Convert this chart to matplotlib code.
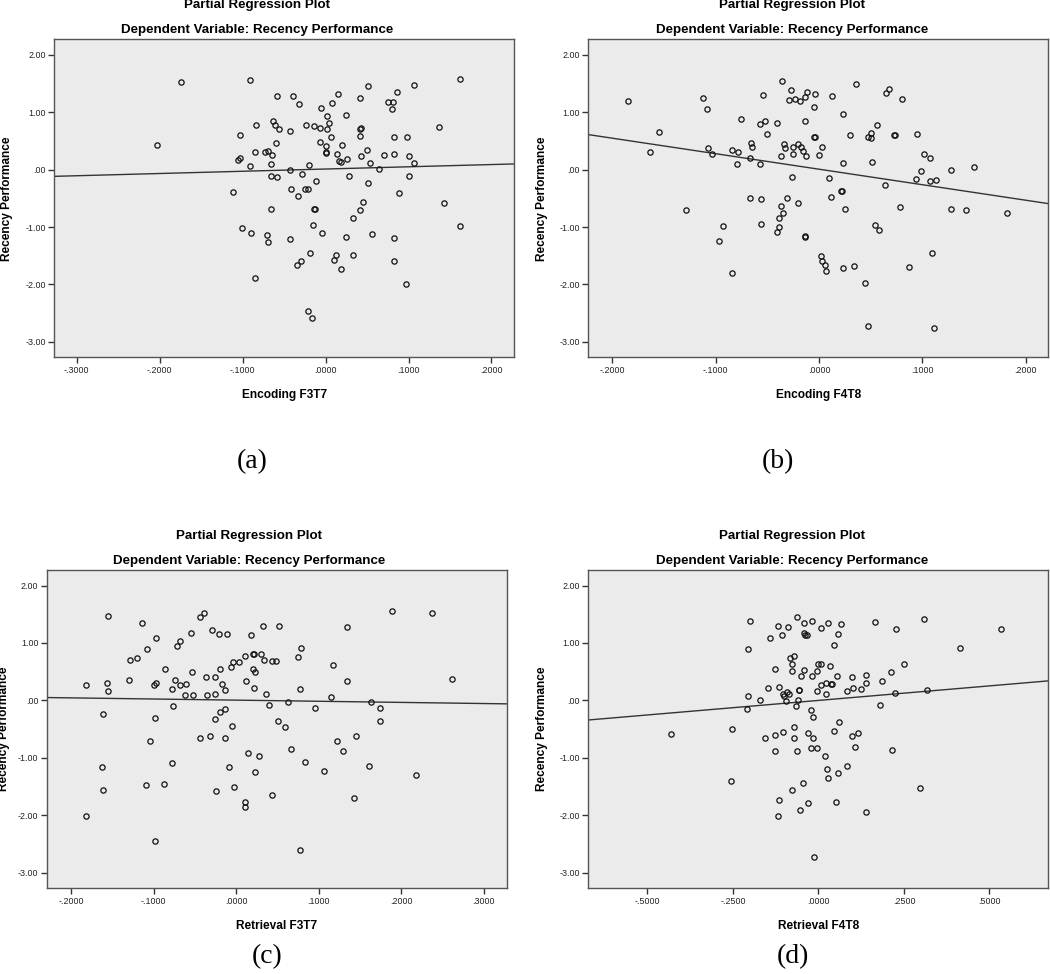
import matplotlib
matplotlib.use('Agg')
import matplotlib.pyplot as plt
from matplotlib.ticker import FuncFormatter

# ===== 数据 =====
# (a) Encoding F3T7
a_x = [-0.174, -0.091, -0.059, -0.203, -0.084, -0.103, -0.063, -0.061, -0.056, -0.060,
       -0.085, -0.073, -0.069, -0.065, -0.106, -0.103, -0.091, -0.066, -0.066, -0.058,
       -0.112, -0.066, -0.101, -0.090, -0.071, -0.070, -0.085, -0.039, -0.032, -0.043,
       -0.043, -0.028, -0.042, -0.033, -0.025, -0.021, -0.011, -0.020, -0.024, -0.014,
       -0.007, -0.005, 0.002, 0.004, 0.002, 0.006, -0.007, 0.001, 0.000, 0.001,
       0.015, 0.008, 0.025, 0.020, 0.014, 0.016, 0.019, 0.026, 0.028, -0.014,
       -0.013, -0.015, -0.004, -0.019, -0.035, -0.030, 0.012, 0.010, 0.018, 0.033,
       0.025, 0.033, 0.041, 0.045, 0.051, 0.053, 0.050, 0.043, 0.042, 0.042,
       0.043, 0.041, 0.051, 0.056, 0.065, 0.071, 0.075, 0.081, 0.080, 0.086,
       0.083, 0.082, 0.089, 0.083, 0.082, 0.097, 0.098, 0.100, 0.106, 0.101,
       0.106, 0.137, 0.143, 0.162, 0.162, -0.021, -0.016, -0.043]
a_y = [1.52, 1.56, 1.29, 0.42, 0.78, 0.60, 0.85, 0.78, 0.70, 0.47,
       0.31, 0.31, 0.33, 0.26, 0.17, 0.20, 0.06, 0.10, -0.12, -0.13,
       -0.39, -0.68, -1.02, -1.10, -1.14, -1.27, -1.88, 1.29, 1.15, 0.67,
       -0.01, -0.08, -0.34, -0.46, -0.33, -0.33, -0.20, 0.08, 0.77, 0.76,
       0.72, 1.07, 0.93, 0.81, 0.70, 0.56, 0.48, 0.41, 0.29, 0.30,
       1.32, 1.16, 0.95, 0.42, 0.28, 0.15, 0.13, 0.19, -0.11, -0.68,
       -0.69, -0.96, -1.10, -1.46, -1.66, -1.60, -1.49, -1.57, -1.74, -1.49,
       -1.18, -0.84, -0.71, -0.56, -0.24, 0.12, 0.34, 0.24, 0.59, 0.71,
       0.72, 1.24, 1.46, -1.13, 0.01, 0.26, 1.18, 1.17, 1.05, 1.36,
       0.57, 0.28, -0.41, -1.20, -1.60, -2.00, 0.57, 0.23, 0.12, -0.11,
       1.48, 0.74, -0.59, 1.58, -0.99, -2.46, -2.59, -1.21]

# (b) Encoding F4T8
b_x = [-0.185, -0.155, -0.164, -0.112, -0.108, -0.107, -0.104, -0.129, -0.093, -0.097,
       -0.084, -0.084, -0.078, -0.079, -0.075, -0.066, -0.065, -0.067, -0.067, -0.057,
       -0.054, -0.052, -0.050, -0.057, -0.056, -0.056, -0.041, -0.036, -0.027, -0.029,
       -0.023, -0.034, -0.033, -0.037, -0.025, -0.025, -0.026, -0.031, -0.037, -0.035,
       -0.039, -0.039, -0.041, -0.018, -0.014, -0.012, -0.004, -0.005, 0.013, 0.036,
       -0.014, 0.023, 0.065, 0.068, 0.080, 0.056, -0.005, -0.004, 0.030, 0.047,
       0.050, 0.050, 0.073, 0.074, 0.095, -0.020, -0.017, -0.015, -0.013, 0.003,
       0.000, 0.023, 0.051, 0.102, 0.107, 0.099, 0.094, 0.107, 0.113, 0.128,
       0.150, 0.010, 0.064, 0.021, 0.022, 0.012, -0.020, 0.025, 0.078, 0.128,
       0.142, 0.182, 0.054, 0.058, -0.014, -0.014, 0.002, 0.003, 0.006, 0.007,
       0.023, 0.034, 0.087, 0.109, 0.045, 0.047, 0.111]
b_y = [1.20, 0.65, 0.30, 1.24, 1.06, 0.37, 0.27, -0.70, -0.99, -1.24,
       -1.81, 0.34, 0.30, 0.09, 0.89, 0.46, 0.39, 0.20, -0.50, 0.79,
       1.30, 0.85, 0.62, 0.09, -0.51, -0.95, 0.82, 1.54, 1.38, 1.21,
       1.23, 0.45, 0.37, 0.24, 0.39, 0.28, -0.13, -0.49, -0.63, -0.76,
       -0.85, -1.00, -1.09, 1.20, 1.27, 1.36, 1.32, 1.09, 1.28, 1.49,
       0.85, 0.96, 1.34, 1.41, 1.23, 0.78, 0.56, 0.57, 0.60, 0.57,
       0.63, 0.55, 0.61, 0.61, 0.62, 0.45, 0.39, 0.33, 0.23, 0.39,
       0.26, 0.12, 0.13, 0.27, 0.21, -0.02, -0.16, -0.20, -0.18, -0.01,
       0.04, -0.14, -0.27, -0.38, -0.38, -0.48, -0.59, -0.69, -0.66, -0.69,
       -0.70, -0.75, -0.97, -1.06, -1.16, -1.18, -1.50, -1.59, -1.66, -1.77,
       -1.71, -1.68, -1.70, -1.45, -1.97, -2.72, -2.76]

# (c) Retrieval F3T7
c_x = [-0.182, -0.182, -0.155, -0.157, -0.155, -0.161, -0.163, -0.161, -0.130, -0.128,
       -0.120, -0.114, -0.108, -0.097, -0.099, -0.097, -0.098, -0.104, -0.109, -0.098,
       -0.086, -0.087, -0.078, -0.076, -0.078, -0.074, -0.068, -0.072, -0.068, -0.061,
       -0.062, -0.052, -0.055, -0.054, -0.044, -0.039, -0.044, -0.036, -0.035, -0.031,
       -0.029, -0.025, -0.025, -0.026, -0.024, -0.021, -0.011, -0.020, -0.019, -0.017,
       -0.013, -0.013, -0.014, -0.008, -0.005, -0.006, -0.004, 0.004, -0.002, 0.011,
       0.012, 0.018, 0.021, 0.022, 0.021, 0.023, 0.022, 0.015, 0.028, 0.023,
       0.011, 0.011, 0.030, 0.033, 0.034, 0.036, 0.040, 0.043, 0.048, 0.043,
       0.052, 0.051, 0.059, 0.063, 0.067, 0.075, 0.079, 0.078, 0.077, 0.084,
       0.096, 0.106, 0.115, 0.118, 0.122, 0.130, 0.135, 0.135, 0.145, 0.143,
       0.161, 0.163, 0.174, 0.175, 0.189, 0.218, 0.238, 0.262]
c_y = [0.27, -2.01, 1.47, 0.31, 0.17, -0.23, -1.16, -1.56, 0.35, 0.71,
       0.73, 1.35, 0.90, 1.09, 0.27, 0.31, -0.30, -0.70, -1.48, -2.44,
       0.55, -1.45, -1.09, -0.10, 0.20, 0.35, 0.26, 0.95, 1.03, 0.28,
       0.09, 0.09, 1.17, 0.49, 1.45, 1.52, -0.65, 0.41, 0.09, -0.62,
       1.23, 0.41, 0.12, -0.33, -1.58, 1.15, 1.15, -0.20, 0.55, 0.29,
       0.19, -0.15, -0.66, -1.16, -0.45, 0.58, 0.67, 0.67, -1.51, 0.77,
       0.33, 1.13, 0.81, 0.81, 0.55, 0.49, 0.21, -0.91, -0.97, -1.24,
       -1.76, -1.85, 0.81, 1.30, 0.70, 0.12, -0.08, 0.69, 0.69, -1.65,
       1.30, -0.36, -0.47, -0.03, -0.84, 0.76, 0.92, 0.20, -2.60, -1.08,
       -0.14, -1.22, 0.06, 0.61, -0.71, -0.88, 1.27, 0.33, -0.62, -1.69,
       -1.15, -0.03, -0.36, -0.14, 1.55, -1.30, 1.53, 0.38]

# (d) Retrieval F4T8
d_x = [-0.430, -0.254, -0.256, -0.199, -0.206, -0.205, -0.210, -0.170, -0.156, -0.149,
       -0.143, -0.127, -0.126, -0.128, -0.118, -0.107, -0.088, -0.114, -0.104, -0.101,
       -0.093, -0.086, -0.094, -0.103, -0.082, -0.077, -0.077, -0.072, -0.114, -0.117,
       -0.078, -0.072, -0.072, -0.062, -0.041, -0.020, -0.043, -0.039, -0.035, 0.007,
       0.027, 0.065, 0.056, 0.045, 0.166, 0.226, 0.309, 0.533, 0.413, 0.251,
       0.211, -0.041, -0.052, -0.018, -0.003, 0.000, 0.007, 0.033, 0.055, 0.098,
       0.138, 0.138, 0.102, 0.124, 0.083, 0.008, 0.021, 0.038, 0.040, -0.004,
       0.022, -0.056, -0.058, -0.061, -0.066, -0.022, -0.017, 0.061, 0.179, 0.223,
       0.316, -0.031, -0.017, 0.046, 0.099, 0.115, -0.064, -0.022, -0.003, 0.107,
       0.214, 0.020, 0.026, 0.029, 0.057, 0.082, -0.044, -0.030, -0.053, 0.051,
       0.140, 0.296, -0.012, 0.186]
d_y = [-0.58, -0.50, -1.41, 1.38, 0.90, 0.07, -0.15, 0.01, -0.66, 0.22,
       1.08, 0.55, -0.60, -0.88, 1.30, 1.13, 1.28, 0.23, 0.12, 0.08,
       0.15, 0.12, -0.01, -0.55, 0.74, 0.64, 0.52, 0.78, -1.73, -2.02,
       -1.56, -0.47, -0.65, 1.46, 1.34, 1.39, 1.17, 1.14, 1.13, 1.26,
       1.34, 1.33, 1.16, 0.97, 1.36, 1.25, 1.41, 1.24, 0.92, 0.63,
       0.50, 0.53, 0.42, 0.42, 0.52, 0.64, 0.64, 0.60, 0.43, 0.40,
       0.45, 0.31, 0.21, 0.20, 0.17, 0.27, 0.30, 0.29, 0.28, 0.17,
       0.11, 0.18, 0.19, 0.00, -0.09, -0.16, -0.28, -0.37, -0.08, 0.13,
       0.19, -0.56, -0.66, -0.54, -0.62, -0.56, -0.88, -0.83, -0.83, -0.81,
       -0.86, -0.96, -1.19, -1.35, -1.27, -1.15, -1.44, -1.79, -1.90, -1.77,
       -1.95, -1.52, -2.72, 0.34]

# 拟合线 (截距, 斜率)
fits = [(0.01, 0.39), (0.007, -2.70), (0.005, -0.197), (0.0, 0.506)]

xlabels = ['Encoding F3T7', 'Encoding F4T8', 'Retrieval F3T7', 'Retrieval F4T8']
captions = ['(a)', '(b)', '(c)', '(d)']
xlims = [(-0.327, 0.2275), (-0.2233, 0.222), (-0.2295, 0.328), (-0.673, 0.672)]
xticks = [[-0.3, -0.2, -0.1, 0.0, 0.1, 0.2],
          [-0.2, -0.1, 0.0, 0.1, 0.2],
          [-0.2, -0.1, 0.0, 0.1, 0.2, 0.3],
          [-0.5, -0.25, 0.0, 0.25, 0.5]]
yticks = [2, 1, 0, -1, -2, -3]
ylim = (-3.27, 2.27)

# ===== 布局（像素） =====
W, H = 1050, 974
boxes = [(54.3, 39.3, 514.3, 357.3), (588.3, 39.3, 1048.3, 357.3),
         (46.7, 570, 506.7, 888.3), (588.3, 570, 1048.3, 888.3)]
title_cx = [257, 792, 249.5, 792]
ylab_x = [13.5, 548, 10.5, 548]
cap_xy = [(252, 462), (778, 462), (267, 957), (793, 957)]


def spss(v, nd):
    s = f'{abs(v):.{nd}f}'
    if s.startswith('0'):
        s = s[1:]
    return ('-' if v < -1e-12 else '') + s


fig = plt.figure(figsize=(W / 100, H / 100), dpi=100)
fig.patch.set_facecolor('white')

data = [(a_x, a_y), (b_x, b_y), (c_x, c_y), (d_x, d_y)]
for i, ((xs, ys), (l, t, r, b)) in enumerate(zip(data, boxes)):
    ax = fig.add_axes([l / W, 1 - b / H, (r - l) / W, (b - t) / H])
    ax.set_facecolor('#EBEBEB')
    ax.plot(xs, ys, 'o', ms=3.8, mfc='none', mec='#111111', mew=0.9, zorder=3)
    x0, x1 = xlims[i]
    c0, k = fits[i]
    ax.plot([x0, x1], [c0 + k * x0, c0 + k * x1], color='#333333', lw=1.0, zorder=2)
    ax.set_xlim(x0, x1); ax.set_ylim(*ylim)
    ax.set_xticks(xticks[i]); ax.set_yticks(yticks)
    ax.xaxis.set_major_formatter(FuncFormatter(lambda v, p: spss(v, 4)))
    ax.yaxis.set_major_formatter(FuncFormatter(lambda v, p: spss(v, 2)))
    ax.tick_params(direction='out', length=4, width=1.0, color='#333333',
                   labelsize=6.4, labelcolor='#222222', pad=2)
    for sp in ax.spines.values():
        sp.set_color('#555555'); sp.set_linewidth(1.0)
    ax.set_xlabel(xlabels[i], fontsize=8.6, fontweight='bold', family='Liberation Sans')
    ax.xaxis.set_label_coords(0.5, -(32) / (b - t))
    ax.set_ylabel('Recency Performance', fontsize=8.6, fontweight='bold', family='Liberation Sans')
    ax.yaxis.set_label_coords((ylab_x[i] - l) / (r - l), 0.5)
    for lbl in ax.get_xticklabels() + ax.get_yticklabels():
        lbl.set_family('Liberation Sans')

    # 标题两行
    fig.text(title_cx[i] / W, 1 - (t - 34) / H, 'Partial Regression Plot', ha='center', va='center',
             fontsize=9.6, fontweight='bold', family='Liberation Sans')
    fig.text(title_cx[i] / W, 1 - (t - 8.8) / H, 'Dependent Variable: Recency Performance',
             ha='center', va='center', fontsize=9.6, fontweight='bold', family='Liberation Sans')
    cx, cy = cap_xy[i]
    fig.text(cx / W, 1 - cy / H, captions[i], ha='center', va='center', fontsize=20,
             family='Liberation Serif')

fig.savefig('out.png', dpi=100)
